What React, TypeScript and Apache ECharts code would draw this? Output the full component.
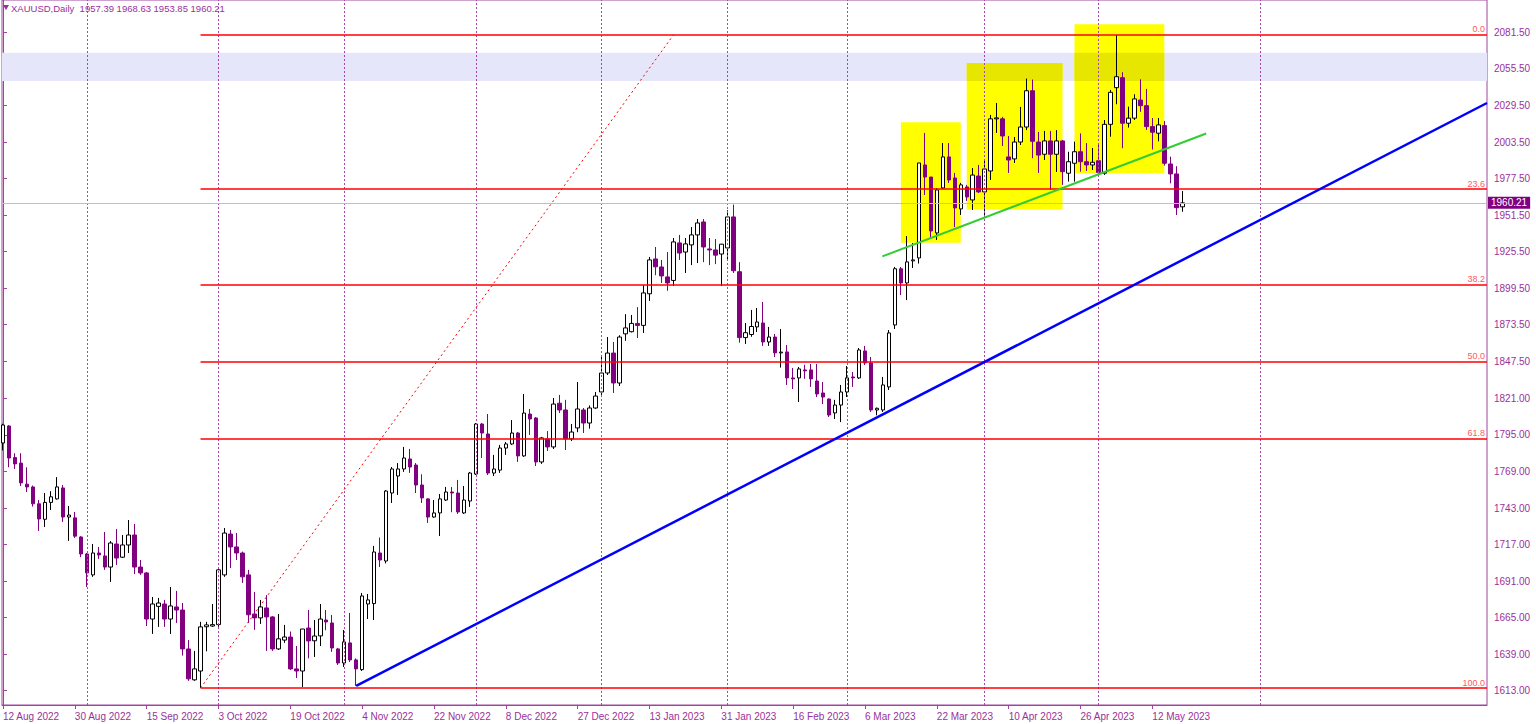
import React, { useEffect, useRef } from "react";
import * as echarts from "echarts";

// ---------- data ----------
const FIRST_DAY = "2022-08-12";
const MARKET_HOLIDAYS = ["2022-12-26", "2023-01-02", "2023-04-07"];
const LABEL_EVERY = 12;
const FUTURE_SEPARATOR_DATES = ["2023-06-01"];

const opens = [
  1789.3, 1801.4, 1778.9, 1775.0, 1760.0, 1758.0, 1746.0, 1735.0, 1747.0, 1749.5,
  1757.3, 1736.6, 1736.0, 1722.4, 1710.3, 1695.4, 1711.0, 1708.9, 1701.0, 1717.4,
  1708.0, 1716.7, 1723.8, 1701.0, 1696.8, 1664.0, 1673.0, 1674.7, 1664.0, 1672.6,
  1670.4, 1642.7, 1620.7, 1627.0, 1658.5, 1659.0, 1660.0, 1695.4, 1724.5, 1715.3,
  1711.0, 1695.4, 1667.6, 1664.8, 1671.9, 1665.5, 1642.7, 1649.0, 1651.2, 1628.5,
  1627.0, 1657.6, 1648.5, 1652.0, 1663.3, 1661.2, 1642.7, 1632.7, 1647.0, 1634.9,
  1628.0, 1674.7, 1675.0, 1711.0, 1705.3, 1753.7, 1765.8, 1770.8, 1777.9, 1773.6,
  1759.4, 1749.5, 1736.6, 1739.5, 1748.7, 1754.4, 1753.7, 1739.5, 1748.0, 1767.2,
  1802.8, 1795.7, 1767.9, 1770.0, 1785.7, 1788.6, 1796.4, 1780.1, 1809.9, 1807.1,
  1775.8, 1792.2, 1786.5, 1817.6, 1812.8, 1792.2, 1800.0, 1812.8, 1803.5, 1814.2,
  1825.6, 1839.1, 1853.3, 1832.0, 1867.0, 1868.5, 1874.4, 1873.0, 1895.5, 1920.3,
  1914.6, 1907.5, 1905.0, 1931.7, 1925.2, 1930.3, 1937.4, 1946.6, 1927.4, 1926.7,
  1923.8, 1928.1, 1950.2, 1911.2, 1864.3, 1866.5, 1871.9, 1874.7, 1861.2, 1864.7,
  1853.4, 1854.1, 1835.6, 1835.6, 1841.3, 1841.3, 1833.4, 1824.9, 1820.6, 1810.7,
  1816.3, 1825.6, 1836.3, 1835.6, 1854.8, 1846.3, 1812.8, 1812.8, 1829.2, 1873.3,
  1913.3, 1903.2, 1918.9, 1921.0, 1987.2, 1978.6, 1938.8, 1970.8, 1992.9, 1977.9,
  1955.9, 1971.5, 1962.3, 1979.3, 1968.0, 1982.9, 2020.0, 2020.0, 1992.9, 1991.5,
  2003.5, 2014.2, 2040.0, 2003.5, 1994.8, 2004.3, 1994.8, 2004.3, 1981.3, 1988.4,
  1996.6, 1989.5, 1987.2, 1990.2, 1981.3, 2016.1, 2042.2, 2049.3, 2016.9, 2020.5,
  2033.4, 2029.4, 2014.5, 2009.8, 2015.2, 1987.9, 1980.8, 1957.39,
];

const highs = [
  1803.0, 1802.0, 1782.0, 1782.0, 1772.0, 1759.0, 1748.7, 1753.7, 1755.0, 1765.0,
  1759.4, 1744.5, 1740.2, 1723.0, 1711.0, 1717.4, 1715.3, 1726.0, 1719.5, 1728.0,
  1723.8, 1734.5, 1731.7, 1706.0, 1697.5, 1679.7, 1679.0, 1677.6, 1686.8, 1684.0,
  1675.4, 1649.0, 1641.3, 1662.0, 1662.0, 1674.7, 1701.0, 1728.8, 1727.4, 1725.2,
  1712.0, 1699.0, 1683.3, 1677.6, 1681.0, 1666.0, 1667.6, 1659.8, 1655.1, 1644.8,
  1656.9, 1670.4, 1663.3, 1674.7, 1670.4, 1666.9, 1643.4, 1656.2, 1668.3, 1636.0,
  1682.5, 1681.8, 1716.0, 1722.0, 1755.8, 1772.2, 1775.0, 1786.5, 1785.0, 1775.0,
  1767.0, 1750.0, 1748.7, 1753.0, 1758.0, 1758.0, 1763.0, 1758.7, 1768.7, 1803.5,
  1803.5, 1809.9, 1780.8, 1787.9, 1790.0, 1805.6, 1797.1, 1824.2, 1813.5, 1807.8,
  1793.6, 1797.8, 1821.3, 1823.5, 1820.0, 1802.8, 1832.7, 1814.2, 1816.0, 1825.6,
  1850.5, 1864.7, 1861.2, 1866.0, 1881.0, 1880.4, 1886.0, 1901.7, 1921.7, 1928.8,
  1919.6, 1925.2, 1935.2, 1937.4, 1935.2, 1943.0, 1948.7, 1948.7, 1935.2, 1934.5,
  1931.0, 1955.0, 1959.0, 1918.0, 1874.7, 1884.0, 1885.4, 1889.7, 1871.9, 1866.9,
  1870.4, 1859.0, 1842.7, 1843.4, 1845.0, 1845.5, 1845.5, 1832.7, 1821.0, 1820.0,
  1830.6, 1844.1, 1839.8, 1856.9, 1858.4, 1850.5, 1814.5, 1836.3, 1869.7, 1914.6,
  1914.6, 1936.6, 1931.6, 1988.6, 2010.0, 1978.6, 1970.8, 2002.8, 2002.8, 1981.5,
  1974.4, 1973.0, 1985.0, 1987.2, 1990.7, 2022.8, 2031.3, 2021.4, 2007.8, 2007.1,
  2028.5, 2048.7, 2048.0, 2010.7, 2011.4, 2011.4, 2012.0, 2005.0, 1996.6, 2003.8,
  2009.7, 2002.8, 1999.3, 2001.4, 2019.2, 2040.6, 2079.7, 2053.2, 2028.7, 2037.5,
  2048.2, 2041.3, 2020.6, 2020.6, 2018.5, 1993.1, 1986.3, 1968.63,
];

const lows = [
  1784.0, 1772.0, 1770.8, 1758.7, 1754.4, 1744.0, 1726.7, 1729.5, 1741.6, 1749.0,
  1733.1, 1719.6, 1721.7, 1708.0, 1686.8, 1694.0, 1706.8, 1699.0, 1690.4, 1702.5,
  1707.4, 1711.0, 1696.0, 1695.4, 1659.0, 1653.4, 1658.4, 1658.4, 1653.4, 1661.2,
  1638.0, 1620.0, 1620.0, 1614.9, 1641.0, 1658.4, 1658.4, 1694.0, 1700.3, 1706.0,
  1689.7, 1661.2, 1656.3, 1660.5, 1641.3, 1641.3, 1642.0, 1647.0, 1627.8, 1622.0,
  1615.6, 1636.0, 1637.0, 1644.8, 1656.0, 1640.6, 1631.3, 1629.9, 1633.4, 1616.4,
  1627.0, 1664.0, 1663.3, 1701.0, 1703.6, 1746.6, 1752.3, 1768.7, 1768.0, 1753.7,
  1746.6, 1732.4, 1736.0, 1723.1, 1748.0, 1740.0, 1738.8, 1738.8, 1743.8, 1766.5,
  1778.6, 1766.5, 1765.8, 1768.0, 1780.8, 1787.9, 1775.8, 1779.4, 1795.0, 1772.9,
  1774.4, 1783.6, 1785.0, 1810.6, 1784.3, 1790.7, 1797.0, 1796.4, 1799.5, 1813.5,
  1823.5, 1837.7, 1824.9, 1829.8, 1862.0, 1868.0, 1864.0, 1867.6, 1890.4, 1908.7,
  1903.2, 1897.6, 1901.0, 1919.6, 1910.3, 1915.9, 1917.4, 1918.0, 1915.9, 1916.6,
  1901.0, 1919.6, 1910.3, 1860.7, 1859.8, 1864.9, 1868.3, 1858.4, 1858.4, 1850.5,
  1843.0, 1830.6, 1827.7, 1818.5, 1835.0, 1829.2, 1822.0, 1817.0, 1807.8, 1806.4,
  1804.2, 1822.0, 1829.2, 1834.9, 1844.8, 1811.4, 1809.0, 1811.4, 1827.0, 1870.4,
  1894.6, 1891.0, 1913.9, 1917.0, 1965.8, 1935.2, 1933.8, 1970.1, 1974.4, 1943.0,
  1951.6, 1961.6, 1955.2, 1967.2, 1949.5, 1976.5, 2010.0, 2000.7, 1981.5, 1988.6,
  2001.4, 2012.0, 1992.0, 1981.5, 1990.7, 1969.4, 1982.2, 1973.0, 1975.3, 1975.3,
  1982.4, 1982.9, 1983.6, 1980.1, 1980.1, 2007.3, 2030.4, 1999.1, 2013.8, 2019.2,
  2025.0, 2012.1, 1998.2, 2004.0, 1986.7, 1974.1, 1951.6, 1953.85,
];

const closes = [
  1802.1, 1778.6, 1774.4, 1760.9, 1758.0, 1746.0, 1735.2, 1747.0, 1751.0, 1758.0,
  1736.6, 1738.0, 1723.0, 1710.3, 1696.8, 1711.0, 1709.6, 1701.0, 1718.1, 1707.4,
  1716.7, 1723.8, 1701.0, 1696.8, 1664.0, 1674.7, 1675.4, 1664.0, 1673.3, 1670.4,
  1642.7, 1621.4, 1628.5, 1658.4, 1659.8, 1660.0, 1699.0, 1725.2, 1715.3, 1711.0,
  1694.0, 1667.0, 1664.8, 1672.6, 1665.5, 1642.7, 1649.9, 1651.2, 1628.5, 1627.0,
  1656.9, 1648.4, 1651.9, 1664.0, 1661.9, 1643.4, 1632.7, 1647.7, 1634.9, 1628.5,
  1680.4, 1677.6, 1711.7, 1706.0, 1755.1, 1770.8, 1770.8, 1778.6, 1772.2, 1759.4,
  1750.2, 1736.6, 1739.5, 1749.5, 1754.4, 1753.7, 1740.2, 1748.7, 1767.9, 1802.8,
  1796.4, 1767.9, 1770.8, 1785.7, 1788.6, 1796.4, 1780.1, 1810.6, 1806.4, 1775.8,
  1792.9, 1786.5, 1817.0, 1812.8, 1792.2, 1797.1, 1813.5, 1803.5, 1814.2, 1822.7,
  1839.1, 1853.3, 1832.0, 1864.7, 1871.2, 1874.4, 1873.0, 1896.1, 1919.6, 1914.7,
  1908.2, 1903.2, 1932.4, 1924.5, 1931.0, 1937.4, 1945.9, 1928.8, 1926.7, 1923.0,
  1930.8, 1950.2, 1911.9, 1864.3, 1867.8, 1872.2, 1875.4, 1861.2, 1864.7, 1853.4,
  1854.0, 1835.6, 1834.9, 1842.0, 1840.6, 1834.9, 1824.2, 1822.0, 1809.2, 1816.3,
  1825.6, 1835.6, 1835.6, 1855.5, 1846.3, 1812.8, 1814.0, 1830.6, 1867.6, 1913.3,
  1903.2, 1918.2, 1919.6, 1988.6, 1978.6, 1940.2, 1969.4, 1992.9, 1976.5, 1956.6,
  1973.0, 1964.4, 1980.0, 1968.0, 1984.3, 2020.0, 2020.7, 2007.8, 1990.7, 2003.5,
  2014.2, 2040.0, 2004.0, 1994.2, 2004.3, 1994.8, 2004.3, 1982.4, 1989.5, 1996.6,
  1989.5, 1987.2, 1989.1, 1981.9, 2016.1, 2038.9, 2050.0, 2016.9, 2020.5, 2034.2,
  2029.4, 2014.5, 2010.5, 2015.7, 1988.4, 1980.8, 1956.8, 1960.21,
];

const priceTicks = [
  2081.5, 2055.5, 2029.5, 2003.5, 1977.5, 1951.5, 1925.5, 1899.5, 1873.5, 1847.5,
  1821.0, 1795.0, 1769.0, 1743.0, 1717.0, 1691.0, 1665.0, 1639.0, 1613.0,
];

const fibLevels = [0, 23.6, 38.2, 50, 61.8, 100];
const fibLowAnchor = { bar: 33, price: 1614.9 };
const fibHighAnchor = { bar: 112, price: 2079.7 };
const blueTrendAnchors = [
  { bar: 59, price: 1616.4 },
  { bar: 164, price: 1847.0 },
];
const greenTrend = [
  { bar: 146.9, price: 1922.1 },
  { bar: 201, price: 2009.6 },
];
const resistanceZone = { top: 2067.0, bottom: 2047.0 };
const yellowBoxes = [
  { fromBar: 150, toBar: 160, top: 2017.6, bottom: 1931.9 },
  { fromBar: 161, toBar: 177, top: 2059.8, bottom: 1955.4 },
  { fromBar: 179, toBar: 194, top: 2087.3, bottom: 1981.3 },
];
const lastPrice = 1960.21;
const headerSymbol = "XAUUSD,Daily";
const headerOHLC = [1957.39, 1968.63, 1953.85, 1960.21];

// ---------- view constants ----------
const X_MIN = -0.167;
const X_MAX = 247.91;
const Y_MIN = 1602.8;
const Y_MAX = 2104.6;
const AXIS_COLOR = "#a044a0";
const TEXT_COLOR = "#9b2f9b";
const BEAR = "#800080";
const FONT = "'Liberation Sans', Arial, sans-serif";
const MONTHS = ["Jan", "Feb", "Mar", "Apr", "May", "Jun", "Jul", "Aug", "Sep", "Oct", "Nov", "Dec"];

function buildDates(n: number): string[] {
  const out: string[] = [];
  const d = new Date(FIRST_DAY + "T00:00:00Z");
  while (out.length < n) {
    const iso = d.toISOString().slice(0, 10);
    const wd = d.getUTCDay();
    if (wd !== 0 && wd !== 6 && !MARKET_HOLIDAYS.includes(iso)) out.push(iso);
    d.setUTCDate(d.getUTCDate() + 1);
  }
  return out;
}

function fmtDate(iso: string): string {
  const [y, m, d] = iso.split("-").map(Number);
  return `${d} ${MONTHS[m - 1]} ${y}`;
}

export default function App() {
  const ref = useRef<HTMLDivElement>(null);

  useEffect(() => {
    document.body.style.margin = "0";
    if (!ref.current) return;
    const chart = echarts.init(ref.current, null, { renderer: "svg" });

    const n = closes.length;
    const dates = buildDates(n);
    const candles = dates.map((_, i) => [i, opens[i], closes[i], lows[i], highs[i]]);

    const labelBars: number[] = [];
    for (let i = 0; i < n; i += LABEL_EVERY) labelBars.push(i);

    const separators: number[] = [];
    for (let i = 1; i < n; i++) {
      if (dates[i].slice(0, 7) !== dates[i - 1].slice(0, 7)) separators.push(i);
    }
    const lastMs = Date.parse(dates[n - 1] + "T00:00:00Z");
    FUTURE_SEPARATOR_DATES.forEach((fd) => {
      const days = Math.round((Date.parse(fd + "T00:00:00Z") - lastMs) / 86400000);
      separators.push(n - 1 + days);
    });

    const fibRange = fibHighAnchor.price - fibLowAnchor.price;
    const fibLines = fibLevels.map((lv) => {
      const p = fibHighAnchor.price - (fibRange * lv) / 100;
      return [
        { coord: [fibLowAnchor.bar, p], name: lv.toFixed(1) },
        { coord: [X_MAX, p] },
      ];
    });

    const [b1, b2] = blueTrendAnchors;
    const slope = (b2.price - b1.price) / (b2.bar - b1.bar);
    const blueEnd = b1.price + slope * (X_MAX - b1.bar);

    const boxAreas = yellowBoxes.map((b) => [
      { coord: [b.fromBar, b.top] },
      { coord: [b.toBar, b.bottom] },
    ]);
    const overlapAreas = yellowBoxes
      .filter((b) => b.top > resistanceZone.bottom && b.bottom < resistanceZone.top)
      .map((b) => [
        { coord: [b.fromBar, Math.min(b.top, resistanceZone.top)] },
        { coord: [b.toBar, Math.max(b.bottom, resistanceZone.bottom)] },
      ]);

    const option: any = {
      animation: false,
      backgroundColor: "#ffffff",
      grid: {
        left: 1,
        right: 49,
        top: 0,
        bottom: 19,
        show: true,
        borderColor: AXIS_COLOR,
        borderWidth: 1,
        backgroundColor: "transparent",
      },
      xAxis: {
        type: "value",
        min: X_MIN,
        max: X_MAX,
        axisLine: { show: true, lineStyle: { color: AXIS_COLOR, width: 1 } },
        axisTick: { show: true, customValues: labelBars, length: 4, lineStyle: { color: AXIS_COLOR } },
        axisLabel: {
          customValues: labelBars,
          formatter: (v: number) => (dates[Math.round(v)] ? fmtDate(dates[Math.round(v)]) : ""),
          align: "left",
          color: TEXT_COLOR,
          fontSize: 10,
          fontFamily: FONT,
          margin: 6,
        },
        splitLine: { show: false },
      },
      yAxis: {
        type: "value",
        position: "right",
        min: Y_MIN,
        max: Y_MAX,
        axisLine: { show: true, lineStyle: { color: AXIS_COLOR, width: 1 } },
        axisTick: { show: true, customValues: priceTicks, length: 4, lineStyle: { color: AXIS_COLOR } },
        axisLabel: {
          customValues: priceTicks,
          formatter: (v: number) => v.toFixed(2),
          color: TEXT_COLOR,
          fontSize: 10,
          fontFamily: FONT,
          margin: 7,
        },
        splitLine: { show: false },
      },
      graphic: [
        {
          type: "polygon",
          shape: { points: [[3, 5], [9, 5], [6, 10]] },
          style: { fill: TEXT_COLOR },
          z: 100,
        },
        {
          type: "text",
          x: 11,
          y: 8,
          style: {
            text: `${headerSymbol}  ${headerOHLC.map((v) => v.toFixed(2)).join(" ")}`,
            fill: TEXT_COLOR,
            font: `9.5px ${FONT}`,
            verticalAlign: "middle",
          },
          z: 100,
        },
      ],
      series: [
        {
          name: "zones",
          type: "line",
          data: [],
          z: 1,
          silent: true,
          markArea: {
            silent: true,
            label: { show: false },
            data: [
              [
                { yAxis: resistanceZone.top, itemStyle: { color: "#e6e6fa" } },
                { yAxis: resistanceZone.bottom },
              ],
              ...boxAreas.map((a) => [{ ...a[0], itemStyle: { color: "#ffff00" } }, a[1]]),
              ...overlapAreas.map((a) => [{ ...a[0], itemStyle: { color: "#e6e600" } }, a[1]]),
            ],
          },
        },
        {
          name: "separators",
          type: "line",
          data: [],
          z: 2,
          silent: true,
          markLine: {
            silent: true,
            symbol: ["none", "none"],
            label: { show: false },
            lineStyle: { color: "#a548a5", width: 1, type: [2, 2] },
            data: [
              ...separators.map((b) => ({ xAxis: b })),
            ],
          },
        },
        {
          name: "last",
          type: "line",
          data: [],
          z: 2,
          silent: true,
          markLine: {
            silent: true,
            symbol: ["none", "none"],
            lineStyle: { color: "#c0c0c0", width: 1, type: "solid" },
            label: {
              show: true,
              position: "end",
              distance: 1,
              formatter: lastPrice.toFixed(2),
              color: "#ffffff",
              backgroundColor: BEAR,
              padding: [1, 3, 1, 3],
              fontSize: 10,
              fontFamily: FONT,
            },
            data: [{ yAxis: lastPrice }],
          },
        },
        {
          name: "XAUUSD",
          type: "candlestick",
          z: 3,
          data: candles,
          encode: { x: 0, y: [1, 2, 3, 4] },
          barWidth: 4,
          itemStyle: {
            color: "#ffffff",
            color0: BEAR,
            borderColor: "#000000",
            borderColor0: BEAR,
            borderWidth: 1,
          },
        },
        {
          name: "drawings",
          type: "line",
          data: [],
          z: 4,
          silent: true,
          markLine: {
            silent: true,
            symbol: ["none", "none"],
            label: {
              show: true,
              position: "insideEndTop",
              formatter: "{b}",
              color: "#ff5a5a",
              fontSize: 9,
              fontFamily: FONT,
              distance: [2, 1],
            },
            data: [
              ...fibLines.map((l) => [
                { ...l[0], lineStyle: { color: "#ff0000", width: 1.6, type: "solid" } },
                l[1],
              ]),
              [
                {
                  coord: [fibLowAnchor.bar, fibLowAnchor.price],
                  lineStyle: { color: "#ff0000", width: 1, type: [2, 3] },
                  label: { show: false },
                },
                { coord: [fibHighAnchor.bar, fibHighAnchor.price] },
              ],
              [
                {
                  coord: [b1.bar, b1.price],
                  lineStyle: { color: "#0000ff", width: 2.5, type: "solid" },
                  label: { show: false },
                },
                { coord: [X_MAX, blueEnd] },
              ],
              [
                {
                  coord: [greenTrend[0].bar, greenTrend[0].price],
                  lineStyle: { color: "#32cd32", width: 2, type: "solid" },
                  label: { show: false },
                },
                { coord: [greenTrend[1].bar, greenTrend[1].price] },
              ],
            ],
          },
        },
      ],
    };

    chart.setOption(option);
    return () => chart.dispose();
  }, []);

  return <div ref={ref} style={{ width: 1536, height: 724 }} />;
}
